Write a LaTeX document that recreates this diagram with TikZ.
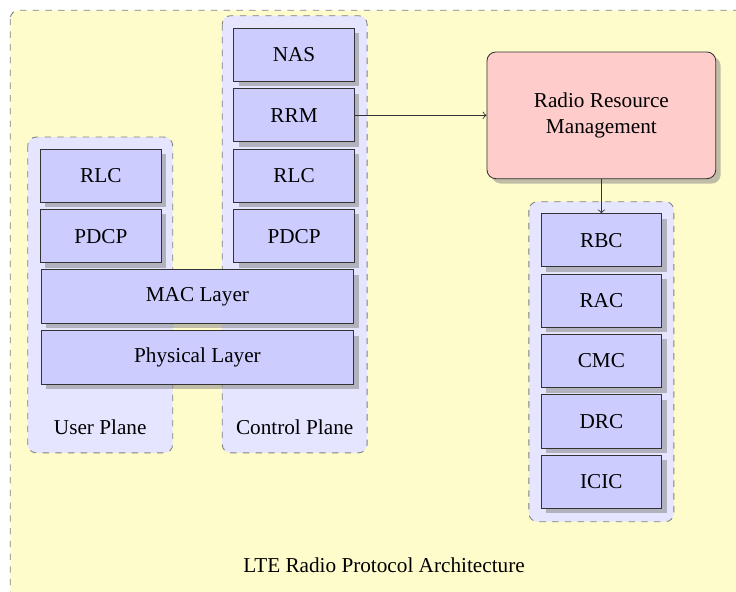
\documentclass[tikz,border=0pt]{standalone}
\usepackage{fontspec}
\setmainfont{Liberation Serif}
\usetikzlibrary{shadows}

\begin{document}
\begin{tikzpicture}[
  layerbox/.style={draw=black!80, fill=blue!20, minimum width=2cm, minimum height=0.88cm, inner sep=0pt, drop shadow},
  planebox/.style={draw=gray, dashed, fill=blue!10, rounded corners},
  rrmbox/.style={draw=black!80, fill=red!20, rounded corners=0.15cm, minimum width=3.79cm, minimum height=2.1cm, align=center, drop shadow}
]
\useasboundingbox (0,0) rectangle (12.19,-9.80);
\clip (0,0) rectangle (12.19,-9.80);
\draw[gray, dashed, fill=yellow!20, rounded corners] (0.17,-0.17) rectangle (12.8,-10.4);
% planes
\draw[planebox] (0.46,-2.27) rectangle (2.86,-7.50);
\draw[planebox] (3.68,-0.26) rectangle (6.08,-7.50);
\draw[planebox] (8.76,-3.34) rectangle (11.16,-8.64);
% control plane
\node[layerbox] (nas) at (4.87,-0.91) {NAS};
\node[layerbox] (rrm) at (4.87,-1.91) {RRM};
\node[layerbox] (crlc) at (4.87,-2.91) {RLC};
\node[layerbox] (cpdcp) at (4.87,-3.91) {PDCP};
% user plane
\node[layerbox] (urlc) at (1.67,-2.91) {RLC};
\node[layerbox] (updcp) at (1.67,-3.91) {PDCP};
% shared layers
\node[layerbox, minimum width=5.18cm] (mac) at (3.27,-4.91) {MAC Layer};
\node[layerbox, minimum width=5.18cm] (phy) at (3.27,-5.92) {Physical Layer};
\node (user) at (1.66,-7.07) {User Plane};
\node (control) at (4.88,-7.07) {Control Plane};
% radio resource management
\node[rrmbox] (rrmblock) at (9.96,-1.91) {Radio Resource\\Management};
\foreach \name/\txt [count=\i] in {rbc/RBC, rac/RAC, cmc/CMC, drc/DRC, icic/ICIC}
  \node[layerbox] (\name) at (9.96,-2.98-\i) {\txt};
\draw[->, black!80] (rrm) -- (rrmblock);
\draw[->, black!80] (rrmblock) -- (rbc);
\node (title) at (6.36,-9.36) {LTE Radio Protocol Architecture};
\end{tikzpicture}
\end{document}
